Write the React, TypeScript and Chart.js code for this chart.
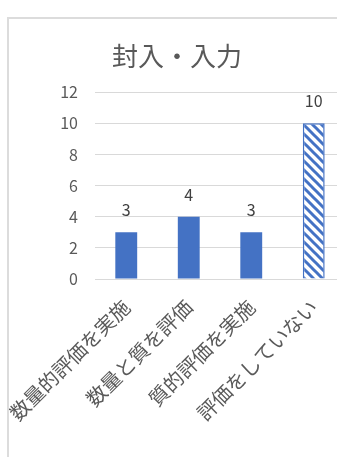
import React, { useEffect, useRef } from "react";
import { Chart, registerables } from "chart.js";

Chart.register(...registerables);

const TITLE = "封入・入力";
const categories = ["数量的評価を実施", "数量と質を評価", "質的評価を実施", "評価をしていない"];
const values = [3, 4, 3, 10];
const patterned = [false, false, false, true];
const yTicks = [0, 2, 4, 6, 8, 10, 12];

const BLUE = "#4472C4";
const FONT = "'Noto Sans CJK JP', 'Noto Sans', sans-serif";

function makePattern(): CanvasPattern | string {
  const c = document.createElement("canvas");
  const s = 9;
  c.width = s;
  c.height = s;
  const ctx = c.getContext("2d");
  if (!ctx) return BLUE;
  ctx.fillStyle = "#ffffff";
  ctx.fillRect(0, 0, s, s);
  ctx.strokeStyle = BLUE;
  ctx.lineWidth = 3;
  ctx.lineCap = "square";
  for (const o of [-s, 0, s]) {
    ctx.beginPath();
    ctx.moveTo(o, 0);
    ctx.lineTo(o + s, s);
    ctx.stroke();
  }
  const p = ctx.createPattern(c, "repeat");
  return p || BLUE;
}

const valueLabels = {
  id: "valueLabels",
  afterDatasetsDraw(chart: any) {
    const ctx = chart.ctx;
    const meta = chart.getDatasetMeta(0);
    ctx.save();
    ctx.font = `16px ${FONT}`;
    ctx.fillStyle = "#404040";
    ctx.textAlign = "center";
    ctx.textBaseline = "middle";
    meta.data.forEach((el: any, i: number) => {
      ctx.fillText(String(values[i]), el.x, el.y - 22);
    });
    ctx.restore();
  },
};

export default function App() {
  const ref = useRef<HTMLCanvasElement>(null);
  useEffect(() => {
    if (!ref.current) return;
    const pattern = makePattern();
    const chart = new Chart(ref.current, {
      type: "bar",
      data: {
        labels: categories,
        datasets: [
          {
            data: values,
            backgroundColor: patterned.map((p) => (p ? pattern : BLUE)) as any,
            borderColor: BLUE,
            borderWidth: patterned.map((p) => (p ? 1.5 : 0)) as any,
            categoryPercentage: 1,
            barPercentage: 0.35,
          },
        ],
      },
      options: {
        responsive: false,
        animation: false,
        devicePixelRatio: 1,
        layout: { padding: { left: 0, right: 4, top: 0, bottom: 0 } },
        plugins: {
          legend: { display: false },
          tooltip: { enabled: false },
          title: {
            display: true,
            text: TITLE,
            color: "#595959",
            font: { family: FONT, size: 26, weight: "normal", lineHeight: 1.2 },
            padding: { top: 22, bottom: 20 },
          },
        },
        scales: {
          x: {
            grid: { display: false },
            border: { display: false },
            ticks: {
              autoSkip: false,
              minRotation: 45,
              maxRotation: 45,
              padding: 8,
              color: "#595959",
              font: { family: FONT, size: 20 },
            },
            afterFit: (s: any) => {
              s.height = 178;
              s.paddingLeft = 0;
              s.paddingRight = 0;
            },
          },
          y: {
            min: 0,
            max: 12,
            afterBuildTicks: (s: any) => {
              s.ticks = yTicks.map((v) => ({ value: v }));
            },
            grid: { color: "#d9d9d9", lineWidth: 1, drawTicks: false },
            border: { display: false },
            ticks: {
              padding: 17,
              color: "#595959",
              font: { family: FONT, size: 16 },
            },
            afterFit: (s: any) => {
              s.width = 86;
              s.paddingTop = 0;
              s.paddingBottom = 0;
            },
          },
        },
      },
      plugins: [valueLabels],
    });
    return () => chart.destroy();
  }, []);

  return (
    <div
      style={{
        position: "absolute",
        left: 7,
        top: 17,
        width: 328,
        height: 438,
        overflow: "hidden",
        borderLeft: "2px solid #dcdcdc",
        borderTop: "2px solid #dcdcdc",
        background: "#fff",
      }}
    >
      <canvas ref={ref} width={340} height={438} style={{ display: "block" }} />
    </div>
  );
}
